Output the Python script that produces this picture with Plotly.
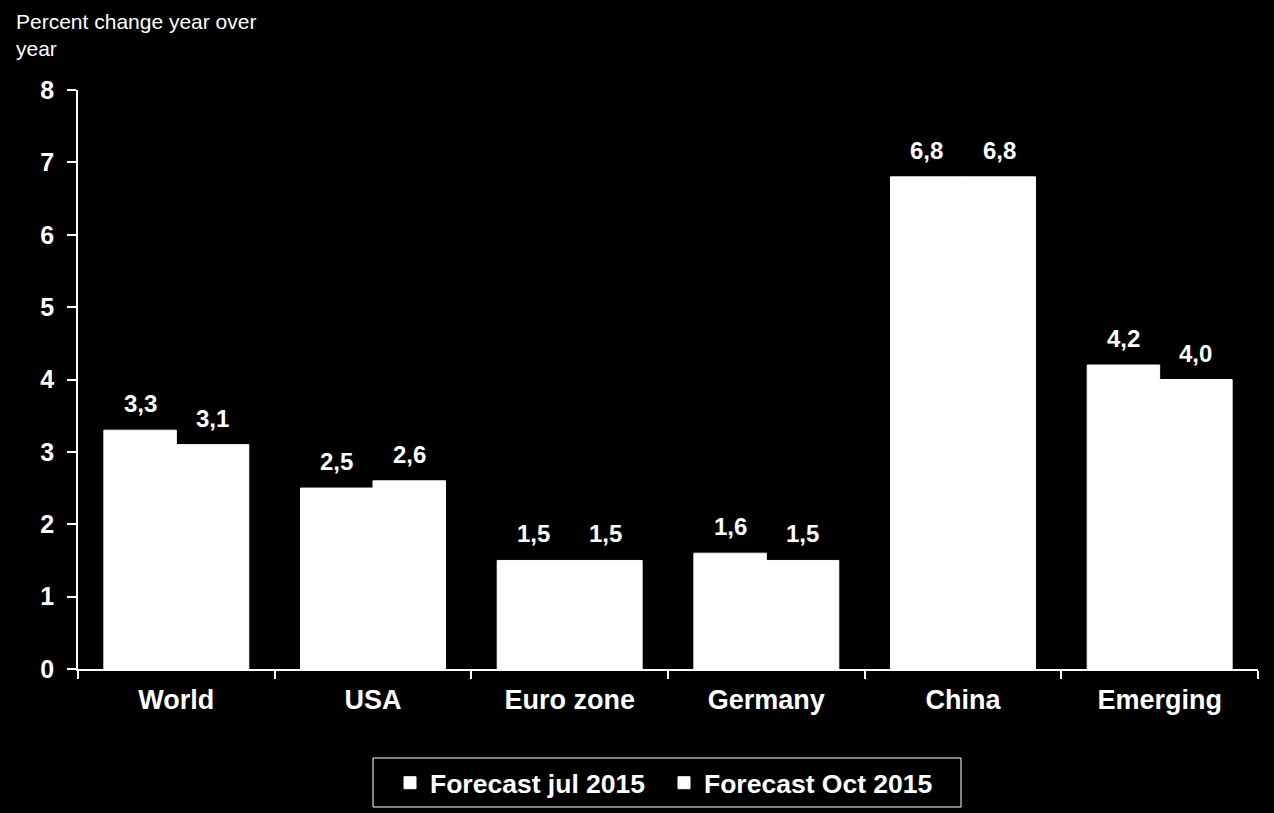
import plotly.graph_objects as go

categories = ["World", "USA", "Euro zone", "Germany", "China", "Emerging"]
jul_2015 = [3.3, 2.5, 1.5, 1.6, 6.8, 4.2]
oct_2015 = [3.1, 2.6, 1.5, 1.5, 6.8, 4.0]
series_names = ["Forecast jul 2015", "Forecast Oct 2015"]
y_ticks = [0, 1, 2, 3, 4, 5, 6, 7, 8]
y_title = "Percent change year over<br>year"

FONT = "Liberation Sans, Arial, sans-serif"
BAR_PX = 72.5  # pixel width of one bar (for label centring)

# plot-area geometry in pixels
W, H = 1274, 813
ML, MR, MT, MB = 78, 16, 90, 144
PW, PH = W - ML - MR, H - MT - MB


def px_x(p):
    return (p - ML) / PW


def px_y(p):
    return (H - MB - p) / PH


fig = go.Figure()
for name, vals in zip(series_names, [jul_2015, oct_2015]):
    fig.add_trace(go.Bar(
        x=categories, y=vals, name=name,
        marker=dict(color="white", line=dict(width=1, color="white")),
    ))

# data labels above each bar
for k, vals in enumerate([jul_2015, oct_2015]):
    shift = (k - 0.5) * BAR_PX
    for c, v in zip(categories, vals):
        fig.add_annotation(
            x=c, y=v, xref="x", yref="y", xshift=shift, yshift=11,
            text=f"{v:.1f}".replace(".", ","), showarrow=False,
            xanchor="center", yanchor="bottom",
            font=dict(family=FONT, size=24, color="white", weight="bold"),
        )

fig.update_layout(
    width=W, height=H,
    paper_bgcolor="black", plot_bgcolor="black",
    barmode="group", bargap=0.263, bargroupgap=0,
    margin=dict(l=ML, r=MR, t=MT, b=MB, autoexpand=False),
    font=dict(family=FONT, color="white"),
    showlegend=True,
    legend=dict(
        orientation="h", x=390 / W, xanchor="left", xref="container",
        y=px_y(783), yanchor="middle", yref="paper",
        font=dict(family=FONT, size=26.5, color="white", weight="bold"),
        borderwidth=0, bgcolor="rgba(0,0,0,0)",
        traceorder="normal", entrywidth=229,
    ),
)

# legend frame
fig.add_shape(
    type="rect", xref="paper", yref="paper",
    x0=px_x(373), x1=px_x(961), y0=px_y(807), y1=px_y(758),
    line=dict(color="white", width=1), fillcolor="rgba(0,0,0,0)", layer="below",
)

fig.add_annotation(
    text=y_title, xref="paper", yref="paper", x=-0.0545, y=1.142,
    xanchor="left", yanchor="top", align="left", showarrow=False,
    font=dict(family=FONT, size=21, color="white"),
)

fig.update_xaxes(
    showline=True, linecolor="white", linewidth=1.5,
    ticks="outside", tickson="boundaries", ticklen=8, tickcolor="white", tickwidth=1.5,
    tickfont=dict(family=FONT, size=27, color="white", weight="bold"),
    ticklabelstandoff=6,
    showgrid=False, zeroline=False,
)
fig.update_yaxes(
    range=[0, 8], tickvals=y_ticks,
    showline=True, linecolor="white", linewidth=1.5,
    ticks="outside", ticklen=9, tickcolor="white", tickwidth=1.5,
    tickfont=dict(family=FONT, size=25, color="white", weight="bold"),
    ticklabelstandoff=8,
    showgrid=False, zeroline=False,
)

fig.write_html("out.html", config={"displayModeBar": False})

# remove default page margin so the figure fills the window
with open("out.html", "r", encoding="utf-8") as f:
    html = f.read()
html = html.replace("<head>", "<head><style>html,body{margin:0;padding:0;background:black;}</style>", 1)
with open("out.html", "w", encoding="utf-8") as f:
    f.write(html)
